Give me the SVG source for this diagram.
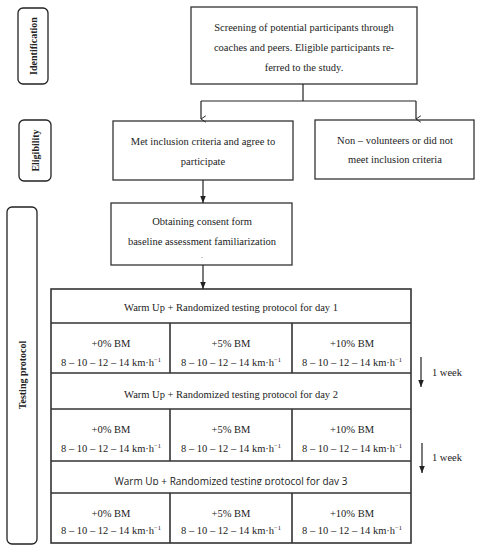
<svg xmlns="http://www.w3.org/2000/svg" width="482" height="550" viewBox="0 0 482 550">
<style>
.box{fill:#fff;stroke:#333;stroke-width:1.3}
.side{fill:#fff;stroke:#222;stroke-width:1.3}
.tb{fill:none;stroke:#333;stroke-width:1.6}
.ln{fill:none;stroke:#222;stroke-width:1.2}
text{font-family:"Liberation Serif","DejaVu Serif",serif;font-size:10.5px;fill:#222;text-anchor:middle}
.lab{font-weight:bold;font-size:10px}
.sans{font-family:"Open Sans","Liberation Sans",sans-serif;font-size:10px}
</style>
<defs>
<marker id="open" viewBox="0 0 10 10" refX="5" refY="9" markerWidth="8" markerHeight="8" markerUnits="userSpaceOnUse" orient="auto-start-reverse">
<path d="M1,3 L5,9 L9,3" fill="none" stroke="#222" stroke-width="1.2"/>
</marker>
<marker id="fill" viewBox="0 0 10 10" refX="10" refY="5" markerWidth="7" markerHeight="7" markerUnits="userSpaceOnUse" orient="auto">
<path d="M0,1 L10,5 L0,9 Z" fill="#222"/>
</marker>
<clipPath id="clipDay3"><rect x="51" y="461" width="360" height="24"/></clipPath>
</defs>

<g id="label-identification">
<rect class="side" x="18" y="8" width="30" height="76" rx="5"/>
<text class="lab" transform="translate(36.5,46) rotate(-90)">Identification</text>
</g>
<g id="label-eligibility">
<rect class="side" x="19" y="120" width="32" height="61" rx="5"/>
<text class="lab" transform="translate(38.5,150.5) rotate(-90)">Eligibility</text>
</g>
<g id="label-testing">
<rect class="side" x="7" y="207" width="30" height="337" rx="5"/>
<text class="lab" transform="translate(25.5,375) rotate(-90)">Testing protocol</text>
</g>

<g id="screening">
<rect class="box" x="191" y="7" width="226" height="77"/>
<text x="304" y="31">Screening of potential participants through</text>
<text x="304" y="51">coaches and peers. Eligible participants re-</text>
<text x="304" y="71">ferred to the study.</text>
</g>

<g id="met-inclusion">
<rect class="box" x="113" y="121" width="180" height="59"/>
<text x="203" y="145">Met inclusion criteria and agree to</text>
<text x="203" y="165">participate</text>
</g>

<g id="non-volunteers">
<rect class="box" x="315" y="120" width="159" height="59"/>
<text x="395" y="144">Non – volunteers or did not</text>
<text x="395" y="163">meet inclusion criteria</text>
</g>

<g id="consent">
<rect class="box" x="111" y="203" width="181" height="62"/>
<text x="202" y="225">Obtaining consent form</text>
<text x="202" y="245">baseline assessment familiarization</text>
<text x="202" y="258" style="font-size:6px">.</text>
</g>

<g id="protocol-table">
<rect class="tb" x="51" y="289" width="360" height="254"/>
<line class="tb" x1="51" y1="323" x2="411" y2="323"/>
<line class="tb" x1="51" y1="373" x2="411" y2="373"/>
<line class="tb" x1="51" y1="409" x2="411" y2="409"/>
<line class="tb" x1="51" y1="461" x2="411" y2="461"/>
<line class="tb" x1="51" y1="493" x2="411" y2="493"/>
<line class="tb" x1="170" y1="323" x2="170" y2="373"/>
<line class="tb" x1="292" y1="323" x2="292" y2="373"/>
<line class="tb" x1="170" y1="409" x2="170" y2="461"/>
<line class="tb" x1="292" y1="409" x2="292" y2="461"/>
<line class="tb" x1="170" y1="493" x2="170" y2="543"/>
<line class="tb" x1="292" y1="493" x2="292" y2="543"/>

<text x="231" y="311">Warm Up + Randomized testing protocol for day 1</text>
<text x="111" y="347">+0% BM</text>
<text x="231" y="347">+5% BM</text>
<text x="352" y="347">+10% BM</text>
<text x="111" y="366">8 – 10 – 12 – 14 km·h<tspan dy="-4" style="font-size:6.5px">−1</tspan></text>
<text x="231" y="366">8 – 10 – 12 – 14 km·h<tspan dy="-4" style="font-size:6.5px">−1</tspan></text>
<text x="352" y="366">8 – 10 – 12 – 14 km·h<tspan dy="-4" style="font-size:6.5px">−1</tspan></text>

<text x="231" y="398">Warm Up + Randomized testing protocol for day 2</text>
<text x="111" y="433">+0% BM</text>
<text x="231" y="433">+5% BM</text>
<text x="352" y="433">+10% BM</text>
<text x="111" y="452">8 – 10 – 12 – 14 km·h<tspan dy="-4" style="font-size:6.5px">−1</tspan></text>
<text x="231" y="452">8 – 10 – 12 – 14 km·h<tspan dy="-4" style="font-size:6.5px">−1</tspan></text>
<text x="352" y="452">8 – 10 – 12 – 14 km·h<tspan dy="-4" style="font-size:6.5px">−1</tspan></text>

<text class="sans" x="231" y="485" clip-path="url(#clipDay3)">Warm Up + Randomized testing protocol for day 3</text>
<text x="111" y="517">+0% BM</text>
<text x="231" y="517">+5% BM</text>
<text x="352" y="517">+10% BM</text>
<text x="111" y="534">8 – 10 – 12 – 14 km·h<tspan dy="-4" style="font-size:6.5px">−1</tspan></text>
<text x="231" y="534">8 – 10 – 12 – 14 km·h<tspan dy="-4" style="font-size:6.5px">−1</tspan></text>
<text x="352" y="534">8 – 10 – 12 – 14 km·h<tspan dy="-4" style="font-size:6.5px">−1</tspan></text>
</g>

<g id="week-notes">
<text x="447" y="376">1 week</text>
<text x="447" y="461">1 week</text>
</g>

<g id="connectors">
<line class="ln" x1="303" y1="84" x2="303" y2="101"/>
<polyline class="ln" points="201,101 416,101"/>
<line class="ln" x1="201" y1="101" x2="201" y2="119" marker-end="url(#open)"/>
<line class="ln" x1="416" y1="101" x2="416" y2="119" marker-end="url(#open)"/>
<line class="ln" x1="203" y1="180" x2="203" y2="203" marker-end="url(#fill)"/>
<line class="ln" x1="203" y1="265" x2="203" y2="289" marker-end="url(#fill)"/>
<line class="ln" x1="421" y1="357" x2="421" y2="387" marker-end="url(#fill)"/>
<line class="ln" x1="422" y1="443" x2="422" y2="473" marker-end="url(#fill)"/>
</g>
</svg>
